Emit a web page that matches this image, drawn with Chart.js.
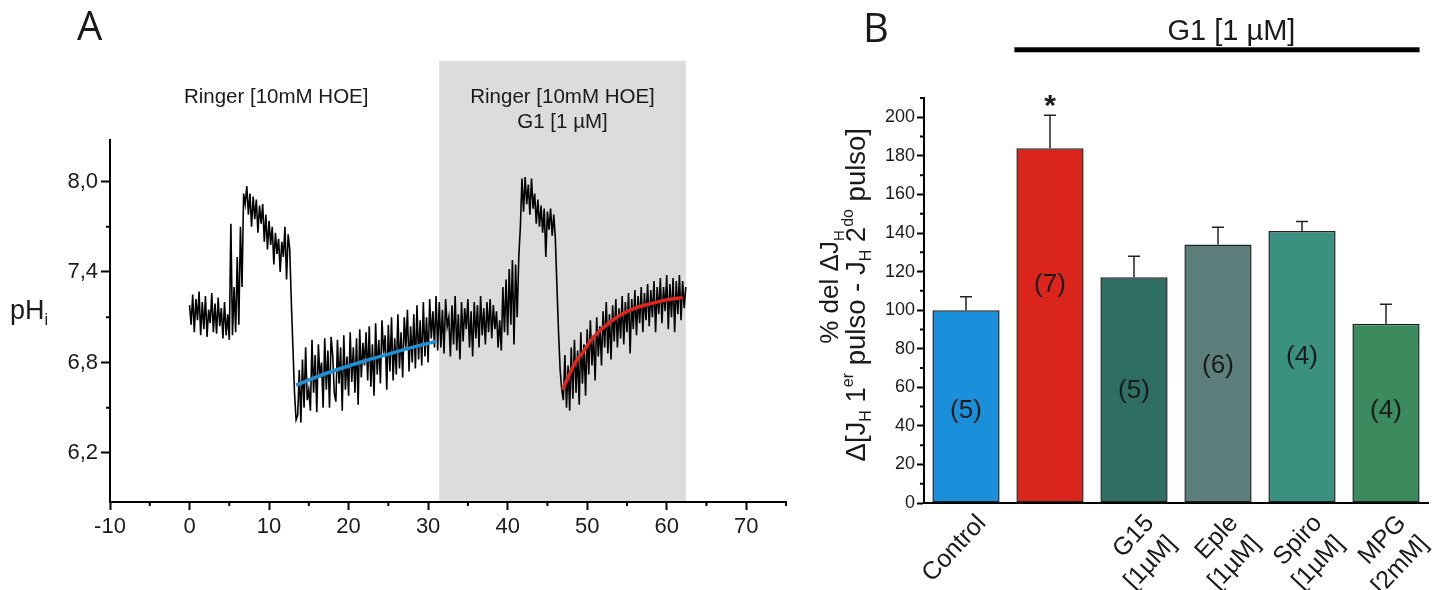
<!DOCTYPE html>
<html>
<head>
<meta charset="utf-8">
<script src="https://cdn.jsdelivr.net/npm/chart.js@4/dist/chart.umd.min.js"></script>
<style>
  body { margin: 0; background: #fff; }
  #wrapA { position: absolute; left: 0; top: 0; width: 800px; height: 590px; }
  #wrapB { position: absolute; left: 800px; top: 0; width: 637px; height: 590px; }
</style>
</head>
<body>
<div id="wrapA"><canvas id="chartA"></canvas></div>
<div id="wrapB"><canvas id="chartB"></canvas></div>
<script>
// ---- panel A : pHi recording, one sample every 0.2 min starting at t = 0
const sampleStep = 0.2;
const phTrace = [
  // 0.0 - 5.0 baseline
  7.18, 7.05, 7.25, 7.00, 7.22, 7.08, 7.27, 6.98, 7.20, 7.02, 7.24, 6.97, 7.15,
  7.06, 7.26, 7.00, 7.19, 6.99, 7.23, 7.04, 7.16, 6.96, 7.20, 6.98, 7.12, 6.95,
  // 5.2 - 6.8 rise
  7.72, 6.98, 7.30, 7.00, 7.50, 7.05, 7.70, 7.30, 7.92,
  // 7.0 - 8.8
  7.85, 7.97, 7.78, 7.92, 7.70, 7.90, 7.75, 7.88, 7.66, 7.84,
  // 9.0 - 12.6
  7.72, 7.85, 7.60, 7.78, 7.55, 7.74, 7.58, 7.70, 7.45, 7.66,
  7.52, 7.62, 7.40, 7.60, 7.50, 7.70, 7.35, 7.65, 7.55,
  // 12.8 - 13.4 drop
  7.20, 6.90, 6.60, 6.42,
  // 13.6 - 31.0 recovery
  6.45, 6.75, 6.40, 6.82, 6.50, 6.90, 6.55, 6.62, 6.48, 6.95,
  6.60, 6.85, 6.47, 6.92, 6.70, 6.80, 6.50, 6.96, 6.62, 6.88,
  6.50, 6.97, 6.85, 6.60, 6.54, 6.95, 6.66, 6.90, 6.48, 6.98,
  6.62, 6.84, 6.58, 7.00, 6.67, 6.90, 6.60, 6.96, 6.52, 7.02,
  6.70, 6.93, 6.78, 7.00, 6.68, 7.04, 6.64, 6.92, 6.58, 7.06,
  6.72, 6.95, 6.66, 7.08, 6.86, 6.98, 6.62, 7.05, 6.74, 7.10,
  6.68, 6.96, 6.72, 7.12, 6.76, 7.00, 6.70, 7.10, 6.90, 7.15,
  6.74, 7.04, 6.80, 7.12, 6.76, 7.18, 6.82, 7.08, 6.78, 7.20,
  6.84, 7.10, 6.80, 7.22, 6.96, 7.14, 6.90, 7.24,
  // 31.2 - 39.0 with G1
  6.88, 7.20, 6.90, 7.15, 6.86, 7.22, 7.04, 7.10, 6.84, 7.18,
  6.92, 7.24, 6.88, 7.12, 6.82, 7.20, 6.94, 7.16, 7.02, 7.22,
  6.90, 7.14, 6.84, 7.20, 6.96, 7.18, 6.90, 7.24, 6.98, 7.16,
  6.92, 7.20, 7.00, 7.22, 6.96, 7.18, 7.02, 7.14, 6.90, 7.08,
  // 39.2 - 41.6
  6.88, 7.30, 7.00, 7.35, 6.98, 7.42, 7.05, 7.48, 6.92, 7.45, 7.10, 7.50, 7.70,
  // 41.8 - 46.0 second pulse
  8.02, 7.80, 8.03, 7.85, 7.98, 7.78, 8.02, 7.82, 7.92, 7.72, 7.88,
  7.70, 7.84, 7.66, 7.82, 7.50, 7.80, 7.68, 7.82, 7.64, 7.78, 7.62,
  // 46.2 - 46.8 drop
  7.30, 7.00, 6.75, 6.62,
  // 47.0 - 62.4 recovery
  6.55, 6.85, 6.50, 6.78, 6.48, 6.90, 6.56, 6.95, 6.60, 6.88,
  6.52, 7.00, 6.66, 6.92, 6.58, 7.02, 6.72, 7.08, 6.78, 6.98,
  6.68, 7.10, 6.84, 7.04, 6.78, 7.14, 6.90, 7.20, 6.86, 7.12,
  6.82, 7.18, 6.94, 7.22, 6.90, 7.16, 6.96, 7.24, 6.92, 7.20,
  7.00, 7.26, 6.86, 7.22, 7.02, 7.28, 6.98, 7.24, 7.06, 7.30,
  7.00, 7.26, 7.08, 7.32, 7.04, 7.28, 7.10, 7.34, 7.00, 7.30,
  7.12, 7.36, 7.06, 7.30, 7.14, 7.38, 7.02, 7.32, 7.10, 7.36,
  7.00, 7.34, 7.12, 7.38, 7.08, 7.34, 7.16, 7.30
];
const blueFitT  = [13.4, 16, 19, 22, 25, 28, 31.0];
const blueFitPh = [6.65, 6.705, 6.76, 6.81, 6.855, 6.90, 6.94];
const redFitT  = [46.9, 47.5, 48.5, 49.5, 50.5, 52, 54, 56, 58, 60, 62];
const redFitPh = [6.62, 6.69, 6.80, 6.87, 6.95, 7.03, 7.11, 7.16, 7.19, 7.215, 7.23];
const xTicksA = [-10, 0, 10, 20, 30, 40, 50, 60, 70];
const xMinorA = [-5, 5, 15, 25, 35, 45, 55, 65, 75];
const yTicksA = [6.2, 6.8, 7.4, 8.0];
const yMinorA = [6.5, 7.1, 7.7];

// ---- panel B : % del delta JH
const groups = ['Control', '', ['G15', '[1\u00b5M]'], ['Eple', '[1\u00b5M]'], ['Spiro', '[1\u00b5M]'], ['MPG', '[2mM]']];
const pctValues = [100, 184, 117, 134, 141, 93];
const pctErrors = [7, 17, 11, 9, 5, 10];
const nLabels = ['(5)', '(7)', '(5)', '(6)', '(4)', '(4)'];
const yTicksB = [0, 20, 40, 60, 80, 100, 120, 140, 160, 180, 200];
const yMinorB = [10, 30, 50, 70, 90, 110, 130, 150, 170, 190, 210];

const FONT = '"Liberation Sans", Arial, sans-serif';

// draw a line of text with sub/superscript pieces, centred on cx,cy
const drawRich = (ctx, parts, cx, cy, size, rot) => {
  ctx.save();
  ctx.translate(cx, cy);
  ctx.rotate(rot);
  const fontOf = p => (p.sub || p.sup ? Math.round(size * 0.58) : size) + 'px ' + FONT;
  let total = 0;
  const w = parts.map(p => { ctx.font = fontOf(p); const m = ctx.measureText(p.t).width; total += m; return m; });
  let x = -total / 2;
  ctx.textAlign = 'left';
  ctx.textBaseline = 'alphabetic';
  parts.forEach((p, i) => {
    ctx.font = fontOf(p);
    const dy = p.sub ? size * 0.22 : p.sup ? -size * 0.42 : 0;
    ctx.fillText(p.t, x, size * 0.36 + dy);
    x += w[i];
  });
  ctx.restore();
};

const minorTicks = {
  id: 'minorTicks',
  afterDraw(chart, args, opts) {
    const ctx = chart.ctx, xs = chart.scales.x, ys = chart.scales.y;
    ctx.save();
    ctx.strokeStyle = '#000';
    ctx.lineWidth = 2;
    ctx.beginPath();
    (opts.x || []).forEach(v => {
      const p = xs.getPixelForValue(v);
      ctx.moveTo(p, xs.top); ctx.lineTo(p, xs.top + opts.len);
    });
    (opts.y || []).forEach(v => {
      const p = ys.getPixelForValue(v);
      ctx.moveTo(ys.right - opts.len, p); ctx.lineTo(ys.right, p);
    });
    ctx.stroke();
    ctx.restore();
  }
};

const panelA = {
  id: 'panelA',
  beforeDraw(chart, args, o) {
    const ctx = chart.ctx, xs = chart.scales.x, ys = chart.scales.y;
    const x1 = xs.getPixelForValue(o.shadeFrom), x2 = xs.getPixelForValue(o.shadeTo);
    const top = ys.getPixelForValue(o.shadeTop);
    ctx.save();
    ctx.fillStyle = '#dcdcdc';
    ctx.fillRect(x1, top, x2 - x1, ys.bottom - top);
    ctx.restore();
  },
  afterDraw(chart, args, o) {
    const ctx = chart.ctx, xs = chart.scales.x, ys = chart.scales.y;
    ctx.save();
    ctx.fillStyle = '#1a1a1a';
    ctx.font = '40px "Open Sans", sans-serif';
    ctx.textAlign = 'left';
    ctx.textBaseline = 'alphabetic';
    ctx.fillText('A', 77, 40);
    ctx.font = '20.5px ' + FONT;
    ctx.textAlign = 'center';
    ctx.textBaseline = 'middle';
    ctx.fillText('Ringer [10mM HOE]', xs.getPixelForValue(o.note1At), ys.getPixelForValue(o.noteRow1));
    ctx.fillText('Ringer [10mM HOE]', xs.getPixelForValue(o.note2At), ys.getPixelForValue(o.noteRow1));
    ctx.fillText('G1 [1 \u00b5M]', xs.getPixelForValue(o.note2At), ys.getPixelForValue(o.noteRow2));
    drawRich(ctx, [{ t: 'pH' }, { t: 'i', sub: true }], 29, ys.getPixelForValue(7.15), 27, 0);
    ctx.restore();
  }
};

new Chart(document.getElementById('chartA'), {
  type: 'line',
  data: {
    datasets: [
      {
        data: phTrace.map((v, i) => ({ x: i * sampleStep, y: v })),
        borderColor: '#000', borderWidth: 1.6, pointRadius: 0, tension: 0, order: 2
      },
      {
        data: blueFitT.map((t, i) => ({ x: t, y: blueFitPh[i] })),
        borderColor: '#1e8fd3', borderWidth: 3.5, pointRadius: 0, cubicInterpolationMode: 'monotone', order: 0
      },
      {
        data: redFitT.map((t, i) => ({ x: t, y: redFitPh[i] })),
        borderColor: '#e0271d', borderWidth: 3.5, pointRadius: 0, cubicInterpolationMode: 'monotone', order: 0
      }
    ]
  },
  options: {
    responsive: true, maintainAspectRatio: false, animation: false,
    layout: { padding: { top: 140, right: 14, left: 0, bottom: 0 } },
    plugins: {
      legend: { display: false }, tooltip: { enabled: false },
      minorTicks: { x: xMinorA, y: yMinorA, len: 4 },
      panelA: { shadeFrom: 31.4, shadeTo: 62.4, shadeTop: 8.8, note1At: 10.9, note2At: 46.9, noteRow1: 8.56, noteRow2: 8.39 }
    },
    scales: {
      x: {
        type: 'linear', min: -10, max: 75,
        afterBuildTicks: s => { s.ticks = xTicksA.map(v => ({ value: v })); },
        afterFit: s => { s.height = 88; },
        grid: { display: true, drawOnChartArea: false, drawTicks: true, tickLength: 8, tickColor: '#000', tickWidth: 2 },
        border: { display: true, color: '#000', width: 2 },
        ticks: { color: '#1a1a1a', font: { family: FONT, size: 22 }, padding: 4, maxRotation: 0, autoSkip: false }
      },
      y: {
        type: 'linear', min: 5.875, max: 8.275,
        afterBuildTicks: s => { s.ticks = yTicksA.map(v => ({ value: v })); },
        afterFit: s => { s.width = 110; },
        grid: { display: true, drawOnChartArea: false, drawTicks: true, tickLength: 9, tickColor: '#000', tickWidth: 2 },
        border: { display: true, color: '#000', width: 2 },
        ticks: { color: '#1a1a1a', font: { family: FONT, size: 22 }, padding: 3,
                 callback: v => v.toFixed(1).replace('.', ',') }
      }
    }
  },
  plugins: [panelA, minorTicks]
});

const panelB = {
  id: 'panelB',
  afterDatasetsDraw(chart, args, o) {
    const ctx = chart.ctx, ys = chart.scales.y;
    const bars = chart.getDatasetMeta(0).data;
    ctx.save();
    ctx.strokeStyle = '#222';
    ctx.lineWidth = 1.5;
    bars.forEach((b, i) => {
      const y0 = ys.getPixelForValue(pctValues[i]);
      const y1 = ys.getPixelForValue(pctValues[i] + pctErrors[i]);
      ctx.beginPath();
      ctx.moveTo(b.x, y0); ctx.lineTo(b.x, y1);
      ctx.moveTo(b.x - 6, y1); ctx.lineTo(b.x + 6, y1);
      ctx.stroke();
    });
    ctx.fillStyle = '#1a1a1a';
    ctx.font = '26px ' + FONT;
    ctx.textAlign = 'center';
    ctx.textBaseline = 'middle';
    bars.forEach((b, i) => ctx.fillText(nLabels[i], b.x, ys.getPixelForValue(o.nAt[i])));
    ctx.font = 'bold 30px ' + FONT;
    ctx.textBaseline = 'alphabetic';
    const s = bars[o.starBar];
    ctx.fillText('*', s.x, ys.getPixelForValue(pctValues[o.starBar] + pctErrors[o.starBar]));
    ctx.restore();
  },
  afterDraw(chart, args, o) {
    const ctx = chart.ctx, xs = chart.scales.x, ys = chart.scales.y;
    const bars = chart.getDatasetMeta(0).data;
    ctx.save();
    ctx.fillStyle = '#1a1a1a';
    ctx.font = '40px "Open Sans", sans-serif';
    ctx.textAlign = 'left';
    ctx.textBaseline = 'alphabetic';
    ctx.fillText('B', 63, 42);
    // G1 bar over the treated groups
    const a = bars[1], z = bars[bars.length - 1];
    const ly = ys.getPixelForValue(o.g1Line);
    ctx.fillStyle = '#000';
    ctx.fillRect(a.x - a.width / 2 - 2, ly - 2.5, z.x + z.width / 2 - (a.x - a.width / 2 - 2), 5);
    ctx.fillStyle = '#1a1a1a';
    ctx.font = '29px ' + FONT;
    ctx.textAlign = 'center';
    ctx.textBaseline = 'middle';
    ctx.fillText('G1 [1 \u00b5M]', xs.getPixelForValue(o.g1TextAt), ys.getPixelForValue(o.g1Text));
    // y title
    const left = chart.chartArea.left;
    drawRich(ctx, [{ t: '% del \u0394J' }, { t: 'H', sub: true }], left - 95, ys.getPixelForValue(112), 26, -Math.PI / 2);
    drawRich(ctx, [
      { t: '\u0394[J' }, { t: 'H', sub: true }, { t: ' 1' }, { t: 'er', sup: true },
      { t: ' pulso - J' }, { t: 'H', sub: true }, { t: ' 2' }, { t: 'do', sup: true }, { t: ' pulso]' }
    ], left - 69, ys.getPixelForValue(108), 27.5, -Math.PI / 2);
    ctx.restore();
  }
};

new Chart(document.getElementById('chartB'), {
  type: 'bar',
  data: {
    labels: groups,
    datasets: [{
      data: pctValues,
      backgroundColor: ['#1a90da', '#da251c', '#2f6f63', '#5c7f7b', '#3b9180', '#3c8b5f'],
      borderColor: '#222', borderWidth: 1.5, borderSkipped: false,
      barPercentage: 0.8, categoryPercentage: 1
    }]
  },
  options: {
    responsive: true, maintainAspectRatio: false, animation: false,
    layout: { padding: { top: 98, right: 9, left: 0, bottom: 0 } },
    plugins: {
      legend: { display: false }, tooltip: { enabled: false },
      minorTicks: { y: yMinorB, len: 4 },
      panelB: { nAt: [48, 113, 58, 71, 76, 48], starBar: 1, g1Line: 235, g1Text: 244, g1TextAt: 3.16 }
    },
    scales: {
      x: {
        afterFit: s => { s.height = 87; },
        grid: { display: true, drawOnChartArea: false, drawTicks: false },
        border: { display: true, color: '#000', width: 2 },
        ticks: { color: '#1a1a1a', font: { family: FONT, size: 25 }, minRotation: 47, maxRotation: 47,
                 padding: 6, labelOffset: 16, autoSkip: false }
      },
      y: {
        min: 0, max: 210,
        afterBuildTicks: s => { s.ticks = yTicksB.map(v => ({ value: v })); },
        afterFit: s => { s.width = 124; },
        grid: { display: true, drawOnChartArea: false, drawTicks: true, tickLength: 7, tickColor: '#000', tickWidth: 2 },
        border: { display: true, color: '#000', width: 2 },
        ticks: { color: '#1a1a1a', font: { family: FONT, size: 18 }, padding: 2 }
      }
    }
  },
  plugins: [panelB, minorTicks]
});
</script>
</body>
</html>
